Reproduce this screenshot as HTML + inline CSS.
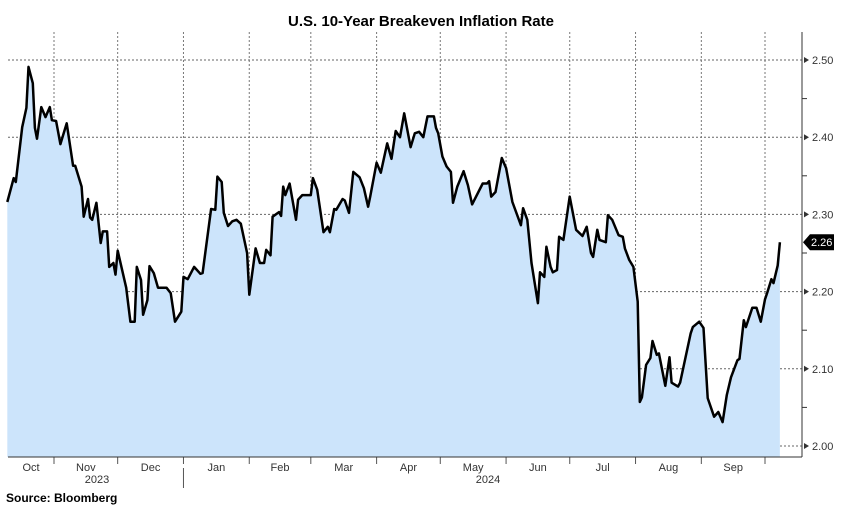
<!DOCTYPE html>
<html><head><meta charset="utf-8"><style>
body{margin:0;background:#fff;width:842px;height:516px;overflow:hidden;font-family:"Liberation Sans",sans-serif}
svg{display:block}
</style></head><body>
<svg id="chart" width="842" height="516">
<text x="421" y="26" text-anchor="middle" font-weight="bold" font-size="15">U.S. 10-Year Breakeven Inflation Rate</text>
<g id="grid"></g><g id="area"></g><g id="axes"></g>
<text x="6" y="502" font-weight="bold" font-size="12">Source: Bloomberg</text>
</svg>
<script>
// days since 2023-10-01
const days=[9,12,13,16,18,19,21,22,23,25,27,29,30,32,34,37,40,41,44,45,47,48,49,51,53,54,56,57,59,60,61,65,67,69,70,72,73,75,76,78,80,84,86,88,91,92,94,97,100,101,105,107,108,110,111,113,115,117,119,122,123,126,128,130,131,133,134,137,138,139,140,142,145,146,148,152,153,155,158,160,161,163,164,167,168,170,172,175,177,179,180,183,185,188,190,192,194,196,199,201,203,205,207,210,211,212,214,216,218,219,221,224,226,228,233,235,236,237,239,242,244,247,251,252,254,256,259,260,262,263,265,266,268,269,271,274,277,280,282,284,285,287,288,291,292,294,297,299,300,302,304,306,307,308,310,312,313,315,316,319,321,322,325,326,331,332,335,337,339,342,344,346,348,350,353,354,356,357,360,362,364,366,367,369,370,372,373];
const values=[2.316,2.347,2.342,2.413,2.438,2.491,2.470,2.412,2.398,2.439,2.426,2.439,2.422,2.421,2.391,2.418,2.363,2.363,2.336,2.297,2.320,2.296,2.293,2.315,2.263,2.278,2.278,2.232,2.237,2.222,2.253,2.205,2.161,2.161,2.232,2.215,2.170,2.189,2.233,2.224,2.205,2.205,2.198,2.161,2.174,2.219,2.216,2.232,2.223,2.224,2.307,2.306,2.349,2.342,2.302,2.285,2.291,2.293,2.288,2.250,2.196,2.256,2.237,2.237,2.254,2.247,2.297,2.303,2.298,2.336,2.325,2.340,2.293,2.319,2.325,2.325,2.347,2.332,2.277,2.284,2.277,2.307,2.306,2.320,2.318,2.302,2.355,2.348,2.334,2.310,2.323,2.367,2.354,2.392,2.372,2.408,2.400,2.431,2.387,2.405,2.407,2.400,2.427,2.427,2.412,2.405,2.375,2.362,2.355,2.315,2.336,2.356,2.338,2.313,2.340,2.340,2.343,2.323,2.329,2.373,2.360,2.316,2.286,2.308,2.293,2.237,2.185,2.225,2.219,2.258,2.232,2.225,2.228,2.271,2.267,2.323,2.280,2.272,2.284,2.250,2.245,2.280,2.267,2.264,2.299,2.293,2.273,2.271,2.256,2.241,2.232,2.187,2.057,2.063,2.105,2.114,2.136,2.118,2.120,2.078,2.115,2.082,2.077,2.082,2.146,2.154,2.161,2.153,2.062,2.038,2.044,2.031,2.066,2.089,2.111,2.113,2.163,2.154,2.179,2.179,2.161,2.190,2.198,2.216,2.211,2.234,2.264];
const monthLabels=["Oct","Nov","Dec","Jan","Feb","Mar","Apr","May","Jun","Jul","Aug","Sep"];
const monthStarts=[0,31,61,92,123,152,183,213,244,274,305,336,366];
const yTicks=[2.00,2.10,2.20,2.30,2.40,2.50];
const lastLabel="2.26";
const X=d=>54+(d-31)*2.1224, Y=v=>60+(2.5-v)*772;
const NS="http://www.w3.org/2000/svg";
function mk(t,a,p){const e=document.createElementNS(NS,t);for(const k in a)e.setAttribute(k,a[k]);p.appendChild(e);return e;}
const grid=document.getElementById('grid'),area=document.getElementById('area'),axes=document.getElementById('axes');
const L=8,R=802,B=457,T=32;
yTicks.forEach(v=>{const l=mk('line',{x1:L,x2:R,y1:Y(v),y2:Y(v),stroke:'#666','stroke-dasharray':'2,2','stroke-width':1},grid);

const t=mk('text',{x:R+10,y:Y(v)+4,'font-size':11,fill:'#333'},axes);t.textContent=v.toFixed(2);

mk('path',{d:`M${R+2},${Y(v)-3}L${R+7},${Y(v)}L${R+2},${Y(v)+3}Z`,fill:'#333'},axes);});
for(let v=2.05;v<2.5;v+=0.1){mk('line',{x1:R,x2:R+5,y1:Y(v),y2:Y(v),stroke:'#333'},axes);}
monthStarts.slice(1).forEach(d=>{const l=mk('line',{x1:X(d),x2:X(d),y1:T,y2:B,stroke:'#777','stroke-dasharray':'2,2'},grid);

mk('line',{x1:X(d),x2:X(d),y1:B,y2:B+7,stroke:'#555'},axes);});
monthLabels.forEach((m,i)=>{const a=Math.max(X(monthStarts[i]),L),b=X(monthStarts[i+1]);
const t=mk('text',{x:(a+b)/2,y:B+14,'text-anchor':'middle','font-size':11,fill:'#333'},axes);t.textContent=m;
});
[["2023",97],["2024",488]].forEach(([y,x])=>{const t=mk('text',{x:x,y:B+26,'text-anchor':'middle','font-size':11,fill:'#333'},axes);t.textContent=y;
});
mk('line',{x1:X(92),x2:X(92),y1:B+11,y2:B+31,stroke:'#555'},axes);
mk('line',{x1:L,x2:R,y1:B,y2:B,stroke:'#333'},axes);
mk('line',{x1:R,x2:R,y1:T,y2:B,stroke:'#333'},axes);
let pts=days.map((d,i)=>X(d).toFixed(1)+','+Y(values[i]).toFixed(1));
const fill=mk('path',{d:`M${X(days[0])},${B}L${pts.join('L')}L${X(days[days.length-1])},${B}Z`,fill:'#cce4fb'},area);

const line=mk('polyline',{points:pts.join(' '),fill:'none',stroke:'#000','stroke-width':2.5,'stroke-linejoin':'round'},area);

const ly=Y(values[values.length-1]);
const tag=mk('path',{d:`M${R+1},${ly}L${R+8},${ly-8}L${R+32},${ly-8}L${R+32},${ly+8}L${R+8},${ly+8}Z`,fill:'#000'},axes);

const tt=mk('text',{x:R+9,y:ly+4,'font-size':11,fill:'#fff'},axes);tt.textContent=lastLabel;

</script>
</body></html>
